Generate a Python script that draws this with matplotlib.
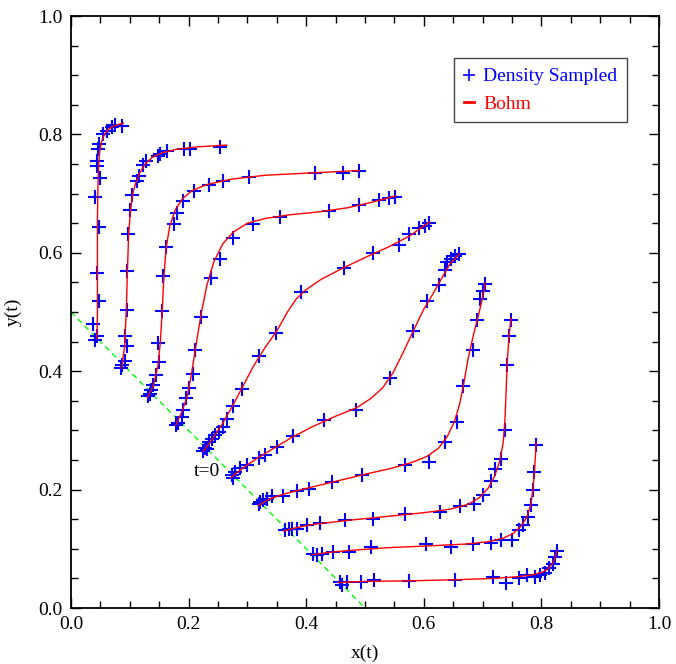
import matplotlib
matplotlib.use('Agg')
import matplotlib.pyplot as plt
from matplotlib.lines import Line2D
from matplotlib.ticker import MultipleLocator

plt.rcParams['font.family'] = ['Liberation Serif', 'DejaVu Serif']

# Bohm trajectories (red curves), one list per starting point
bohm_x = [
    [0.044, 0.045, 0.045, 0.045, 0.046, 0.047, 0.049, 0.052, 0.057, 0.063, 0.070, 0.078, 0.089],
    [0.086, 0.091, 0.094, 0.096, 0.098, 0.101, 0.105, 0.110, 0.117, 0.126, 0.138, 0.155, 0.180, 0.215, 0.265],
    [0.130, 0.140, 0.148, 0.152, 0.155, 0.158, 0.162, 0.168, 0.177, 0.190, 0.206, 0.230, 0.270, 0.330, 0.410, 0.490],
    [0.178, 0.188, 0.197, 0.204, 0.212, 0.221, 0.231, 0.243, 0.258, 0.276, 0.300, 0.330, 0.370, 0.420, 0.470, 0.510, 0.552],
    [0.225, 0.240, 0.258, 0.275, 0.292, 0.310, 0.330, 0.350, 0.368, 0.383, 0.400, 0.425, 0.460, 0.500, 0.540, 0.575, 0.595, 0.610],
    [0.272, 0.285, 0.300, 0.320, 0.345, 0.375, 0.410, 0.450, 0.485, 0.510, 0.530, 0.548, 0.565, 0.582, 0.600, 0.618, 0.632, 0.645, 0.660],
    [0.318, 0.335, 0.360, 0.400, 0.450, 0.500, 0.545, 0.580, 0.605, 0.625, 0.640, 0.652, 0.661, 0.668, 0.675, 0.684, 0.693, 0.700, 0.705],
    [0.362, 0.380, 0.410, 0.470, 0.540, 0.600, 0.645, 0.675, 0.695, 0.709, 0.720, 0.729, 0.735, 0.738, 0.740, 0.742, 0.745, 0.748],
    [0.410, 0.430, 0.470, 0.540, 0.610, 0.670, 0.710, 0.735, 0.752, 0.765, 0.775, 0.782, 0.786, 0.789, 0.791],
    [0.455, 0.500, 0.580, 0.660, 0.720, 0.760, 0.785, 0.800, 0.811, 0.818, 0.823, 0.826],
]
bohm_y = [
    [0.455, 0.500, 0.580, 0.660, 0.720, 0.750, 0.772, 0.788, 0.800, 0.808, 0.813, 0.816, 0.819],
    [0.405, 0.440, 0.500, 0.570, 0.630, 0.670, 0.700, 0.718, 0.735, 0.750, 0.761, 0.769, 0.775, 0.779, 0.782],
    [0.355, 0.375, 0.410, 0.450, 0.500, 0.560, 0.610, 0.645, 0.672, 0.692, 0.705, 0.715, 0.724, 0.731, 0.735, 0.739],
    [0.308, 0.330, 0.355, 0.390, 0.440, 0.495, 0.545, 0.585, 0.615, 0.635, 0.650, 0.658, 0.664, 0.669, 0.676, 0.685, 0.696],
    [0.265, 0.285, 0.312, 0.342, 0.374, 0.408, 0.440, 0.468, 0.500, 0.522, 0.538, 0.555, 0.573, 0.592, 0.610, 0.628, 0.642, 0.652],
    [0.220, 0.231, 0.242, 0.255, 0.270, 0.288, 0.306, 0.324, 0.338, 0.354, 0.372, 0.398, 0.432, 0.468, 0.505, 0.535, 0.560, 0.582, 0.598],
    [0.173, 0.183, 0.192, 0.202, 0.214, 0.226, 0.236, 0.246, 0.256, 0.270, 0.290, 0.315, 0.345, 0.380, 0.420, 0.460, 0.495, 0.525, 0.550],
    [0.130, 0.135, 0.141, 0.148, 0.155, 0.161, 0.167, 0.175, 0.187, 0.202, 0.222, 0.248, 0.280, 0.320, 0.370, 0.420, 0.460, 0.490],
    [0.090, 0.093, 0.097, 0.102, 0.105, 0.108, 0.112, 0.118, 0.126, 0.138, 0.153, 0.175, 0.205, 0.245, 0.280],
    [0.043, 0.045, 0.046, 0.048, 0.050, 0.053, 0.056, 0.060, 0.066, 0.074, 0.084, 0.096],
]

# density sampled points (blue crosses)
dens_x = [
    [0.040, 0.044, 0.038, 0.048, 0.044, 0.048, 0.040, 0.049, 0.044, 0.044, 0.046, 0.048, 0.054, 0.061, 0.069, 0.075, 0.086],
    [0.085, 0.087, 0.092, 0.095, 0.092, 0.095, 0.096, 0.097, 0.100, 0.103, 0.113, 0.116, 0.123, 0.128, 0.148, 0.151, 0.163, 0.193, 0.202, 0.253],
    [0.131, 0.134, 0.136, 0.139, 0.145, 0.150, 0.148, 0.154, 0.156, 0.162, 0.176, 0.180, 0.191, 0.209, 0.234, 0.259, 0.303, 0.415, 0.463, 0.489],
    [0.179, 0.182, 0.188, 0.190, 0.196, 0.201, 0.207, 0.211, 0.221, 0.238, 0.253, 0.275, 0.310, 0.355, 0.439, 0.489, 0.524, 0.540, 0.551],
    [0.225, 0.228, 0.231, 0.234, 0.239, 0.245, 0.251, 0.259, 0.265, 0.275, 0.290, 0.319, 0.349, 0.391, 0.464, 0.513, 0.557, 0.575, 0.592, 0.602, 0.608],
    [0.273, 0.276, 0.279, 0.287, 0.299, 0.319, 0.330, 0.350, 0.377, 0.430, 0.485, 0.543, 0.581, 0.606, 0.625, 0.636, 0.639, 0.646, 0.653, 0.659],
    [0.319, 0.321, 0.327, 0.333, 0.341, 0.360, 0.384, 0.405, 0.443, 0.494, 0.568, 0.608, 0.636, 0.657, 0.667, 0.683, 0.691, 0.696, 0.700, 0.704],
    [0.364, 0.370, 0.376, 0.384, 0.401, 0.423, 0.466, 0.513, 0.568, 0.628, 0.662, 0.685, 0.701, 0.715, 0.721, 0.731, 0.738, 0.741, 0.744, 0.748],
    [0.412, 0.418, 0.426, 0.446, 0.473, 0.510, 0.604, 0.647, 0.683, 0.714, 0.732, 0.750, 0.761, 0.769, 0.777, 0.783, 0.785, 0.788, 0.791],
    [0.457, 0.460, 0.469, 0.493, 0.516, 0.575, 0.653, 0.718, 0.739, 0.761, 0.775, 0.789, 0.798, 0.806, 0.813, 0.820, 0.823, 0.826],
]
dens_y = [
    [0.453, 0.460, 0.480, 0.518, 0.566, 0.644, 0.695, 0.727, 0.747, 0.755, 0.775, 0.784, 0.800, 0.806, 0.812, 0.816, 0.814],
    [0.405, 0.410, 0.418, 0.443, 0.460, 0.504, 0.570, 0.632, 0.672, 0.698, 0.722, 0.730, 0.749, 0.755, 0.764, 0.767, 0.772, 0.776, 0.775, 0.778],
    [0.358, 0.362, 0.368, 0.376, 0.393, 0.415, 0.448, 0.501, 0.560, 0.610, 0.649, 0.668, 0.688, 0.705, 0.714, 0.721, 0.728, 0.734, 0.734, 0.738],
    [0.309, 0.312, 0.323, 0.335, 0.354, 0.372, 0.395, 0.435, 0.492, 0.558, 0.590, 0.625, 0.649, 0.661, 0.671, 0.681, 0.689, 0.692, 0.695],
    [0.266, 0.271, 0.268, 0.280, 0.286, 0.292, 0.297, 0.306, 0.320, 0.341, 0.370, 0.425, 0.464, 0.533, 0.575, 0.599, 0.614, 0.631, 0.642, 0.646, 0.650],
    [0.224, 0.219, 0.230, 0.236, 0.241, 0.253, 0.259, 0.272, 0.291, 0.318, 0.334, 0.389, 0.468, 0.518, 0.545, 0.571, 0.584, 0.590, 0.594, 0.598],
    [0.175, 0.179, 0.182, 0.185, 0.189, 0.189, 0.198, 0.201, 0.213, 0.224, 0.241, 0.246, 0.280, 0.315, 0.375, 0.436, 0.486, 0.522, 0.536, 0.548],
    [0.132, 0.134, 0.133, 0.134, 0.141, 0.143, 0.149, 0.150, 0.158, 0.163, 0.172, 0.175, 0.191, 0.215, 0.235, 0.251, 0.301, 0.411, 0.459, 0.486],
    [0.091, 0.089, 0.091, 0.095, 0.095, 0.103, 0.108, 0.103, 0.108, 0.110, 0.115, 0.115, 0.132, 0.140, 0.153, 0.174, 0.199, 0.230, 0.275],
    [0.044, 0.039, 0.044, 0.044, 0.047, 0.046, 0.048, 0.052, 0.043, 0.051, 0.056, 0.052, 0.056, 0.060, 0.067, 0.075, 0.087, 0.097],
]

# initial line x + y = 0.5
start_x = [0.0, 0.5]
start_y = [0.5, 0.0]

fig = plt.figure(figsize=(6.76, 6.64), dpi=100)
ax = fig.add_axes([0.105, 0.0843, 0.870, 0.8916])

ax.plot(start_x, start_y, color='#00ff00', lw=1.0, ls=(0, (4, 3)), zorder=1)

for xs, ys in zip(dens_x, dens_y):
    ax.plot(xs, ys, ls='none', marker='+', ms=10, mew=1.5, color='#0000ff', zorder=2)

for xs, ys in zip(bohm_x, bohm_y):
    ax.plot(xs, ys, color='#ff0000', lw=1.0, zorder=3)

ax.text(0.254, 0.23, 't=0', fontsize=14, ha='right', va='center')

ax.set_xlim(0, 1)
ax.set_ylim(0, 1)
ax.xaxis.set_major_locator(MultipleLocator(0.2))
ax.yaxis.set_major_locator(MultipleLocator(0.2))
ax.xaxis.set_minor_locator(MultipleLocator(0.05))
ax.yaxis.set_minor_locator(MultipleLocator(0.05))
ax.tick_params(which='both', direction='in', top=True, right=True, labelsize=14, width=1.0)
ax.tick_params(which='major', length=7, pad=6)
ax.tick_params(which='minor', length=5)
ax.xaxis.set_major_formatter(plt.FormatStrFormatter('%.1f'))
ax.yaxis.set_major_formatter(plt.FormatStrFormatter('%.1f'))
for s in ax.spines.values():
    s.set_linewidth(1.3)

ax.set_xlabel('x(t)', fontsize=14, labelpad=8)
ax.set_ylabel('y(t)', fontsize=14, labelpad=12)

handles = [
    Line2D([], [], ls='none', marker='+', ms=8, mew=1.2, color='#0000ff'),
    Line2D([], [], color='#ff0000', lw=2.0),
]
leg = ax.legend(handles, ['Density Sampled', 'Bohm'], loc='upper right',
                bbox_to_anchor=(0.946, 0.929), borderaxespad=0, fontsize=14,
                handlelength=0.5, handletextpad=0.5, labelspacing=0.5,
                borderpad=0.5, fancybox=False, framealpha=1)
leg.get_frame().set_edgecolor('#444444')
leg.get_frame().set_linewidth(1.0)
for t, c in zip(leg.get_texts(), ['#0000ff', '#ff0000']):
    t.set_color(c)

fig.savefig('out.png', dpi=100)
